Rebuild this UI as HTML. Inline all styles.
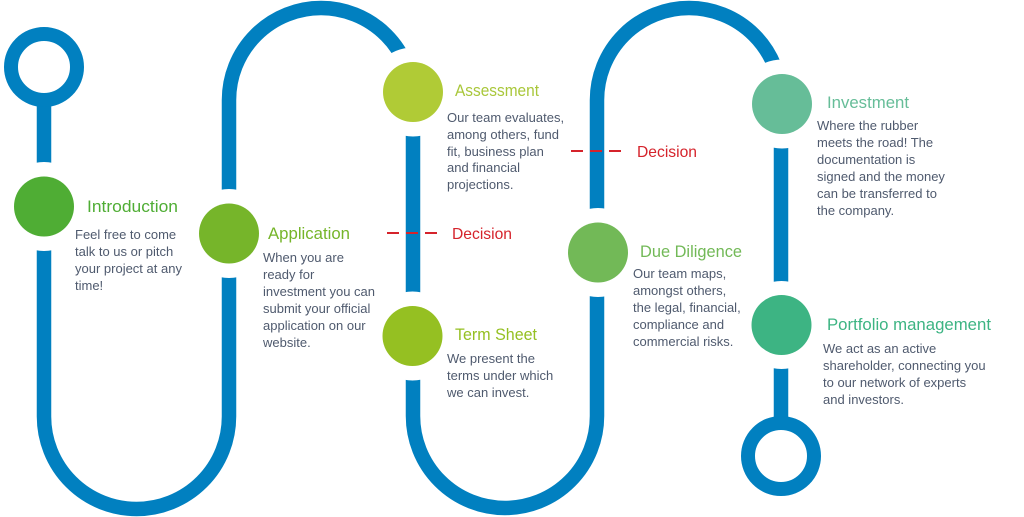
<!DOCTYPE html>
<html>
<head>
<meta charset="utf-8">
<style>
  html,body{margin:0;padding:0;background:#fff;}
  svg{display:block;}
  .t{font-family:"Liberation Sans",Arial,sans-serif;font-size:17px;}
  .b{font-family:"Liberation Sans",Arial,sans-serif;font-size:13px;fill:#4f5a6e;}
  .d{font-family:"Liberation Sans",Arial,sans-serif;font-size:16px;fill:#d5232b;}
</style>
</head>
<body>
<svg width="1024" height="517" viewBox="0 0 1024 517" xmlns="http://www.w3.org/2000/svg">
  <!-- track -->
  <path d="M44,100 L44,416.5 A92.5,92.5 0 0 0 229,416.5 L229,100 A92,92 0 0 1 413,100 L413,416 A92,92 0 0 0 597,416 L597,100 A92,92 0 0 1 781,100 L781,423"
        fill="none" stroke="#0180c0" stroke-width="14.5"/>
  <!-- end rings -->
  <circle cx="44" cy="67" r="33" fill="none" stroke="#0180c0" stroke-width="14"/>
  <circle cx="781" cy="456" r="33" fill="none" stroke="#0180c0" stroke-width="14"/>

  <!-- white masks around nodes -->
  <g fill="#fff">
    <circle cx="44" cy="206.5" r="44.5"/>
    <circle cx="229" cy="233.5" r="44.5"/>
    <circle cx="413" cy="92" r="44.5"/>
    <circle cx="412.5" cy="336" r="44.5"/>
    <circle cx="598" cy="252.5" r="44.5"/>
    <circle cx="782" cy="104" r="44.5"/>
    <circle cx="781.5" cy="325" r="44"/>
  </g>

  <!-- nodes -->
  <circle cx="44" cy="206.5" r="30" fill="#4fad34"/>
  <circle cx="229" cy="233.5" r="30" fill="#76b52a"/>
  <circle cx="413" cy="92" r="30" fill="#b0cb36"/>
  <circle cx="412.5" cy="336" r="30" fill="#95c022"/>
  <circle cx="598" cy="252.5" r="30" fill="#72b957"/>
  <circle cx="782" cy="104" r="30" fill="#66bd98"/>
  <circle cx="781.5" cy="325" r="30" fill="#3db483"/>

  <!-- decision dashes -->
  <line x1="387" y1="233" x2="438" y2="233" stroke="#d5232b" stroke-width="2" stroke-dasharray="12 7"/>
  <line x1="571" y1="151" x2="622" y2="151" stroke="#d5232b" stroke-width="2" stroke-dasharray="12 7"/>
  <text class="d" x="452" y="239" textLength="60" lengthAdjust="spacingAndGlyphs">Decision</text>
  <text class="d" x="637" y="157" textLength="60" lengthAdjust="spacingAndGlyphs">Decision</text>

  <!-- titles -->
  <text class="t" x="87" y="212" fill="#4fad34" textLength="91" lengthAdjust="spacingAndGlyphs">Introduction</text>
  <text class="t" x="268" y="239" fill="#76b52a" textLength="82" lengthAdjust="spacingAndGlyphs">Application</text>
  <text class="t" x="455" y="96" fill="#a9c73a" textLength="84" lengthAdjust="spacingAndGlyphs">Assessment</text>
  <text class="t" x="455" y="340" fill="#95c022" textLength="82" lengthAdjust="spacingAndGlyphs">Term Sheet</text>
  <text class="t" x="640" y="257" fill="#72b957" textLength="102" lengthAdjust="spacingAndGlyphs">Due Diligence</text>
  <text class="t" x="827" y="108" fill="#66bd98" textLength="82" lengthAdjust="spacingAndGlyphs">Investment</text>
  <text class="t" x="827" y="330" fill="#3db483" textLength="164" lengthAdjust="spacingAndGlyphs">Portfolio management</text>

  <!-- body texts -->
  <text class="b" x="75" y="239">Feel free to come</text>
  <text class="b" x="75" y="256">talk to us or pitch</text>
  <text class="b" x="75" y="273">your project at any</text>
  <text class="b" x="75" y="290">time!</text>

  <text class="b" x="263" y="262">When you are</text>
  <text class="b" x="263" y="279">ready for</text>
  <text class="b" x="263" y="296">investment you can</text>
  <text class="b" x="263" y="313">submit your official</text>
  <text class="b" x="263" y="330">application on our</text>
  <text class="b" x="263" y="347">website.</text>

  <text class="b" x="447" y="122">Our team evaluates,</text>
  <text class="b" x="447" y="139">among others, fund</text>
  <text class="b" x="447" y="156">fit, business plan</text>
  <text class="b" x="447" y="172">and financial</text>
  <text class="b" x="447" y="189">projections.</text>

  <text class="b" x="447" y="363">We present the</text>
  <text class="b" x="447" y="380">terms under which</text>
  <text class="b" x="447" y="397">we can invest.</text>

  <text class="b" x="633" y="278">Our team maps,</text>
  <text class="b" x="633" y="295">amongst others,</text>
  <text class="b" x="633" y="312">the legal, financial,</text>
  <text class="b" x="633" y="329">compliance and</text>
  <text class="b" x="633" y="346">commercial risks.</text>

  <text class="b" x="817" y="130">Where the rubber</text>
  <text class="b" x="817" y="147">meets the road! The</text>
  <text class="b" x="817" y="164">documentation is</text>
  <text class="b" x="817" y="181">signed and the money</text>
  <text class="b" x="817" y="198">can be transferred to</text>
  <text class="b" x="817" y="215">the company.</text>

  <text class="b" x="823" y="353">We act as an active</text>
  <text class="b" x="823" y="370">shareholder, connecting you</text>
  <text class="b" x="823" y="387">to our network of experts</text>
  <text class="b" x="823" y="404">and investors.</text>
</svg>
</body>
</html>
